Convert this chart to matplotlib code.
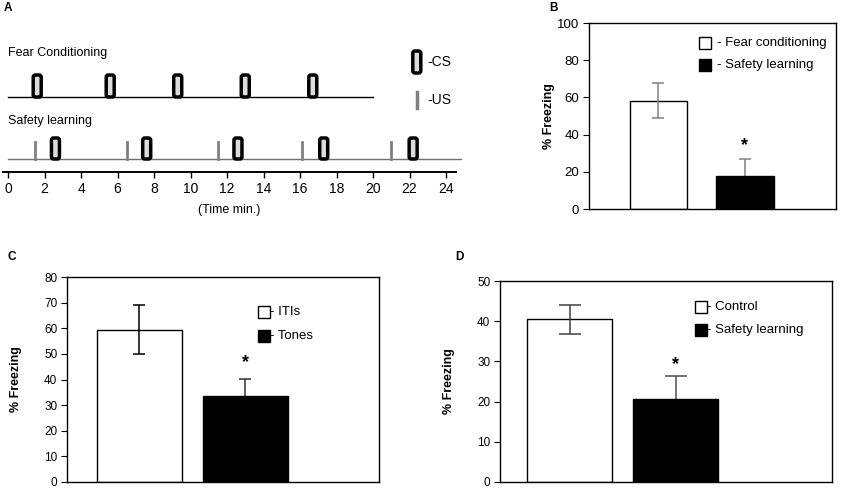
import matplotlib
matplotlib.use("Agg")
import matplotlib.pyplot as plt
from matplotlib.patches import FancyBboxPatch

plt.rcParams["font.family"] = ["Liberation Sans", "DejaVu Sans"]

# panel A timeline (minutes)
fear_cs = [1.6, 5.6, 9.3, 13.0, 16.7]
safety_cs = [2.6, 7.6, 12.6, 17.3, 22.2]
safety_us = [1.5, 6.5, 11.5, 16.1, 21.0]
fear_end = 20
safety_end = 24.8
time_ticks = list(range(0, 25, 2))

# panel B
b_labels = ["- Fear conditioning", "- Safety learning"]
b_means = [58.2, 17.9]
b_errs = [9.5, 9.0]

# panel C
c_labels = ["- ITIs", "- Tones"]
c_means = [59.4, 33.6]
c_errs = [9.6, 6.6]

# panel D
d_labels = ["- Control", "- Safety learning"]
d_means = [40.5, 20.7]
d_errs = [3.6, 5.6]

W, H = 843, 491
fig = plt.figure(figsize=(W / 100, H / 100), dpi=100)


def px_axes(left, top, right, bottom):
    return fig.add_axes([left / W, (H - bottom) / H, (right - left) / W, (bottom - top) / H])


# ---------------- panel A ----------------
axA = px_axes(3, 40, 456, 172)
ppm = 18.25  # pixels per minute
axA.set_xlim((3 - 8) / ppm, (456 - 8) / ppm)
axA.set_ylim(0, 132)
for s in ["left", "right", "top"]:
    axA.spines[s].set_visible(False)
axA.spines["bottom"].set_linewidth(1.4)
axA.set_yticks([])
axA.set_xticks(time_ticks)
axA.tick_params(axis="x", length=4.5, width=1, labelsize=10, pad=3)


def cs_box(x, y0, h=22):
    w = 8 / ppm
    p = FancyBboxPatch((x - w / 2, y0), w, h,
                       boxstyle="round,pad=0,rounding_size=0.12",
                       mutation_aspect=ppm, fc="#dcdcdc", ec="black",
                       lw=2.5, clip_on=False, zorder=3)
    axA.add_patch(p)


axA.plot([0, fear_end], [75, 75], color="black", lw=1, clip_on=False)
axA.plot([0, safety_end], [13, 13], color="#707070", lw=1, clip_on=False)
for t in fear_cs:
    cs_box(t, 75)
for t in safety_cs:
    cs_box(t, 13, 21)
for t in safety_us:
    axA.plot([t, t], [13, 30], color="#808080", lw=2, clip_on=False)

axA.text(0, 119, "Fear Conditioning", fontsize=9, va="center", ha="left")
axA.text(0, 51, "Safety learning", fontsize=9, va="center", ha="left")
cs_box(22.4, 99)
axA.plot([22.4, 22.4], [64, 80], color="#808080", lw=2.5, clip_on=False)
axA.text(23.0, 110, "-CS", fontsize=10, va="center", ha="left")
axA.text(23.0, 72, "-US", fontsize=10, va="center", ha="left")
fig.text(229 / W, 1 - 210 / H, "(Time min.)", fontsize=9, ha="center", va="center")


# ---------------- bar panels ----------------
def bar_panel(ax, means, errs, labels, ymax, ystep, xlim, width, err_colors,
              capsize, tick_size, legend_xy, text_x, star_y, label_dx):
    x = [1, 2]
    ax.bar(x[0], means[0], width, color="white", edgecolor="black", lw=1, zorder=2)
    ax.bar(x[1], means[1], width, color="black", edgecolor="black", lw=1, zorder=2)
    ax.errorbar(x[0], means[0], yerr=errs[0], color=err_colors[0], capsize=capsize,
                lw=1.1, capthick=1.1, zorder=3)
    ax.errorbar(x[1], means[1], yerr=errs[1], color=err_colors[1], capsize=capsize,
                lw=1.1, capthick=1.1, zorder=1)
    ax.text(x[1], star_y, "*", fontsize=13, ha="center", va="center", fontweight="bold")
    ax.set_xlim(*xlim)
    ax.set_ylim(0, ymax)
    ax.set_yticks(range(0, ymax + 1, ystep))
    ax.set_xticks([])
    ax.tick_params(axis="y", length=4, labelsize=tick_size, pad=3)
    for s in ax.spines.values():
        s.set_linewidth(1)
    ax.set_ylabel("% Freezing", fontsize=9, fontweight="bold")
    ax.yaxis.set_label_coords(label_dx, 0.5)
    sx, sy1, sy2 = legend_xy
    ax.plot([sx], [sy1], marker="s", ms=8, mfc="white", mec="black", mew=1,
            transform=ax.transAxes, clip_on=False)
    ax.plot([sx], [sy2], marker="s", ms=8, mfc="black", mec="black", mew=1,
            transform=ax.transAxes, clip_on=False)
    ax.text(text_x, sy1, labels[0], fontsize=9.5, va="center", ha="left", transform=ax.transAxes)
    ax.text(text_x, sy2, labels[1], fontsize=9.5, va="center", ha="left", transform=ax.transAxes)


axB = px_axes(589, 23, 836, 209)
bar_panel(axB, b_means, b_errs, b_labels, 100, 20, (0.20, 3.05), 0.66,
          ["#808080", "#808080"], 4, 9.5, (0.470, 0.892, 0.774), 0.518, 34.2,
          -34 / 247)

axC = px_axes(67, 277, 379, 482)
bar_panel(axC, c_means, c_errs, c_labels, 80, 10, (0.316, 3.26), 0.8,
          ["black", "#303030"], 4.5, 8.5, (0.630, 0.827, 0.712), 0.651, 46.5,
          -45 / 312)

axD = px_axes(500, 281, 832, 482)
bar_panel(axD, d_means, d_errs, d_labels, 50, 10, (0.344, 3.476), 0.8,
          ["#404040", "#505050"], 8, 8.5, (0.604, 0.873, 0.756), 0.623, 29.1,
          -45 / 332)

for lab, (px, py) in zip("ABCD", [(8, 8), (553, 8), (12, 257), (459, 257)]):
    fig.text(px / W, 1 - py / H, lab, fontsize=8.5, fontweight="bold", ha="center", va="center")

fig.savefig("out.png", dpi=100)
